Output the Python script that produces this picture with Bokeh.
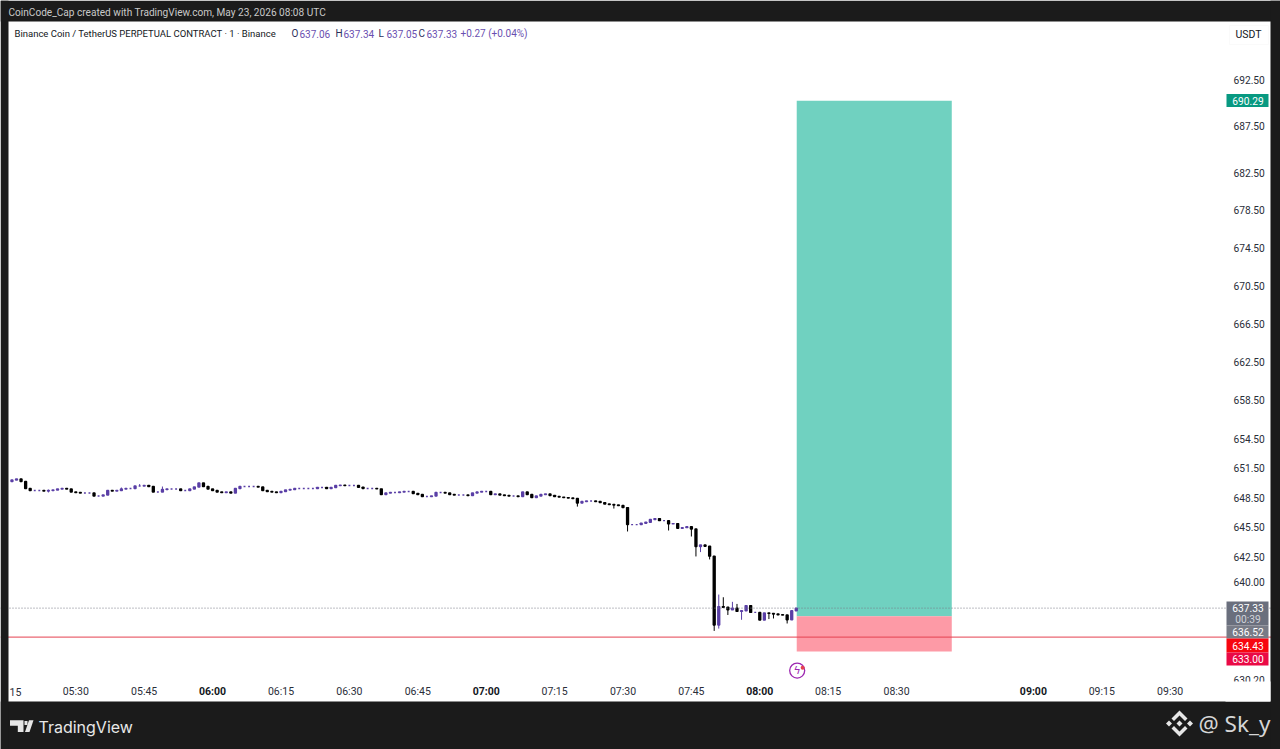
from bokeh.plotting import figure
from bokeh.models import (BoxAnnotation, Label, PolyAnnotation, Span, FixedTicker,
                          PrintfTickFormatter, ColumnDataSource, Range1d)
from bokeh.embed import file_html
from bokeh.resources import INLINE
from bokeh.core.properties import value

first_minute = 316
first_open = 650.15
closes = [650.30,650.41,650.15,649.43,649.23,649.23,649.23,649.18,649.23,649.28,649.38,649.43,649.38,649.08,
649.03,648.97,648.97,648.97,648.67,648.67,648.77,649.23,649.18,649.23,649.38,649.43,649.43,649.69,649.69,649.74,
649.64,649.08,649.08,649.33,649.38,649.38,649.38,649.23,649.23,649.38,649.59,650.00,649.64,649.38,649.23,649.08,
649.03,649.08,648.97,649.43,649.64,649.64,649.64,649.64,649.59,649.23,649.13,649.08,649.03,649.13,649.28,649.33,
649.43,649.43,649.43,649.43,649.43,649.54,649.54,649.43,649.54,649.74,649.77,649.74,649.74,649.74,649.57,649.43,
649.43,649.43,649.40,648.82,648.97,649.03,649.03,649.08,649.13,649.13,648.92,648.82,648.62,648.62,648.67,649.03,
649.03,648.97,648.82,648.77,648.77,648.77,648.72,648.97,649.08,649.13,649.13,648.82,648.87,648.77,648.72,648.67,
648.67,648.62,649.08,648.82,648.51,648.67,648.82,648.87,648.72,648.62,648.56,648.51,648.46,648.41,647.95,648.11,
648.16,648.16,648.11,648.00,647.85,647.80,647.75,647.70,647.49,645.76,645.76,645.76,645.89,645.99,646.27,646.37,
646.16,646.16,645.83,645.86,645.38,645.45,645.55,645.31,643.54,643.69,643.57,642.56,635.63,637.48,637.41,637.17,
637.31,637.00,637.07,637.58,636.90,636.90,636.13,636.84,636.80,636.74,636.67,636.64,636.16,637.06,637.33]
wick_minutes = [324,340,344,349,440,448,451,460,465,466,467,469,470,471,472,473,474,475,476,482,483,486]
wick_highs = [649.33,649.54,649.89,649.64,648.41,647.80,647.49,646.16,645.55,645.31,643.69,643.57,642.56,638.69,638.42,637.41,637.96,637.75,637.07,636.84,636.80,636.64]
wick_lows = [649.03,649.33,649.69,649.23,647.59,647.39,645.06,645.16,644.55,642.53,642.97,642.23,635.05,635.28,637.41,636.64,637.17,637.00,636.16,636.23,636.29,635.79]

price_ticks = [692.5,687.5,682.5,678.5,674.5,670.5,666.5,662.5,658.5,654.5,651.5,648.5,645.5,642.5,640.0,630.2]
time_ticks = [330,345,375,390,405,435,450,465,495,510,555,570]
time_labels = ["05:30","05:45","06:15","06:30","06:45","07:15","07:30","07:45","08:15","08:30","09:15","09:30"]
hour_ticks = [360,420,480,540]
hour_labels = ["06:00","07:00","08:00","09:00"]

last_price = 637.33
target = 690.29
entry = 636.52
stop = 633.00
line_price = 634.43
box_start, box_end = 488.1, 522.1

UP = "#5a3fa6"
DOWN = "#000000"
DARK = "#1b1b1b"
UI = "Roboto"

W, H = 1280, 749
p = figure(width=W, height=H, output_backend="svg", toolbar_location=None,
           y_axis_type="log", y_axis_location="right",
           x_range=Range1d(313.49, 594.19), y_range=Range1d(623.31, 701.26),
           frame_width=W, frame_height=H,
           min_border_left=0, min_border_right=0, min_border_top=0, min_border_bottom=0,
           background_fill_color="white", border_fill_color=DARK, outline_line_color=None)
p.grid.visible = False

def box(x0, y0, x1, y1, color, level="annotation", line=None):
    p.add_layout(BoxAnnotation(left=x0, right=x1, top=y0, bottom=y1,
                               left_units="canvas", right_units="canvas", top_units="canvas", bottom_units="canvas",
                               fill_color=color, fill_alpha=1, line_color=line, level=level, editable=False))

def text(x, y, s, color="#131722", size="11px", align="left", style="normal", font=UI, level="overlay"):
    p.add_layout(Label(x=x, y=y, x_units="canvas", y_units="canvas", text=s, text_color=color,
                       text_font_size=size, text_align=align, text_baseline="middle",
                       text_font=font, text_font_style=style, level=level))

# axes: their labels are pulled back into the chart panel
ax = p.yaxis[0]
ax.ticker = FixedTicker(ticks=price_ticks)
ax.formatter = PrintfTickFormatter(format="%.2f")
ax.axis_line_color = None
ax.major_tick_line_color = None
ax.minor_tick_line_color = None
ax.major_label_standoff = -53
ax.major_label_text_color = "#2a2e39"
ax.major_label_text_font = UI
ax.major_label_text_font_size = "10.2px"

xa = p.xaxis[0]
xa.ticker = FixedTicker(ticks=time_ticks)
xa.major_label_overrides = dict(zip(time_ticks, time_labels))
xa.axis_line_color = None
xa.major_tick_line_color = None
xa.minor_tick_line_color = None
xa.major_label_standoff = -71
xa.major_label_text_color = "#2a2e39"
xa.major_label_text_font = UI
xa.major_label_text_font_size = "10.5px"

# position tool
p.quad(left=[box_start], right=[box_end], top=[target], bottom=[entry], fill_color="#70d1c0", line_color=None)
p.quad(left=[box_start], right=[box_end], top=[entry], bottom=[stop], fill_color="#fd9aa6", line_color=None)

# candles
minutes = [first_minute + i for i in range(len(closes))]
opens = [first_open] + closes[:-1]
colors = [UP if c >= o else DOWN for o, c in zip(opens, closes)]
src = ColumnDataSource(dict(x=minutes, o=opens, c=closes, color=colors))
wick_colors = [colors[m - first_minute] for m in wick_minutes]
p.segment(x0=wick_minutes, x1=wick_minutes, y0=wick_lows, y1=wick_highs, color=wick_colors, line_width=1)
p.vbar(x="x", width=0.42, top="o", bottom="c", source=src, fill_color="color", line_color="color", line_width=1.4)

p.add_layout(Span(location=last_price, dimension="width", line_color="#787b86", line_width=1, line_dash="1 2"))
p.add_layout(Span(location=line_price, dimension="width", line_color="#e5404f", line_width=1))

# lightning marker
p.scatter(x=[488.2], y=[631.1], size=15, marker="circle", fill_color="white", line_color="#9c27b0", line_width=1.3)
p.text(x=[488.2], y=[631.1], text=["ϟ"], text_align="center", text_baseline="middle", text_color="#9c27b0",
       text_font=value("DejaVu Sans"), text_font_size="11px")
p.scatter(x=[489.4], y=[631.38], size=4, marker="circle", fill_color="#e5404f", line_color=None)

# dark surround of the chart panel, and the clipped last tick of the price scale
box(0, 0, W, 21, DARK)
box(0, 701, W, H, DARK)
box(0, 0, 8, H, DARK)
box(1270, 0, W, H, DARK)
box(1225, 681, 1270, 701, "white")

# hour labels and clipped first time label
for t, s in zip(hour_ticks, hour_labels):
    p.add_layout(Label(x=t, y=691, x_units="data", y_units="canvas", text=s, text_color="#131722",
                       text_font_size="10.5px", text_font=UI, text_font_style="bold",
                       text_align="center", text_baseline="middle", level="overlay"))
text(9, 691, "15", color="#2a2e39", size="10.5px")

# header and legend
text(8, 12, "CoinCode_Cap created with TradingView.com, May 23, 2026 08:08 UTC", color="#c9c9c9", size="10.1px")
text(14, 33, "Binance Coin / TetherUS PERPETUAL CONTRACT · 1 · Binance", color="#131722", size="9.5px")
VAL = "#6a4fb0"
for x, k, v in [(291, "O", "637.06"), (335, "H", "637.34"), (378, "L", "637.05"), (418, "C", "637.33")]:
    text(x, 33, k, color="#2b2f5a", size="10px")
    text(x + 8, 33, v, color=VAL, size="10px")
text(460, 33, "+0.27 (+0.04%)", color=VAL, size="10px")

# USDT button
box(1229, 25, 1268, 44, "white", line="#eeeeee")
text(1248, 34, "USDT", color="#131722", size="10.5px", align="center")

# price flags
def flag(y0, y1, color, label, tcolor="white"):
    box(1226, y0, 1268, y1, color)
    text(1247.5, (y0 + y1) / 2, label, color=tcolor, size="10.2px", align="center")

flag(93.5, 106.5, "#089981", "690.29")
box(1226, 601, 1268, 625, "#6a6f7d")
text(1247.5, 607.5, "637.33", color="white", size="10.2px", align="center")
text(1247.5, 619, "00:39", color="#d0d3da", size="10.2px", align="center")
flag(625, 638, "#787b86", "636.52")
flag(638, 652, "#f7060f", "634.43")
flag(652, 665, "#ea0a45", "633.00")

# footer
def poly(xs, ys, color="#e6e6e6"):
    p.add_layout(PolyAnnotation(xs=xs, ys=ys, xs_units="canvas", ys_units="canvas",
                                fill_color=color, fill_alpha=1, line_color=None, level="overlay", editable=False))

poly([9.5, 23, 23, 17.3, 17.3, 9.5], [719.7, 719.7, 731.5, 731.5, 725.2, 725.2])
poly([24, 27, 27, 24], [720.5, 720.5, 724.5, 724.5])
poly([24.5, 29, 33, 28.5], [731.5, 731.5, 719.7, 719.7])
text(38, 726, "TradingView", color="#e8e8e8", size="16px", style="normal", font="Inter")

cx, cy = 1179, 723
poly([cx, cx + 8, cx + 5.5, cx, cx - 5.5, cx - 8], [cy - 13, cy - 5, cy - 2.5, cy - 8, cy - 2.5, cy - 5])
poly([cx, cx + 8, cx + 5.5, cx, cx - 5.5, cx - 8], [cy + 13, cy + 5, cy + 2.5, cy + 8, cy + 2.5, cy + 5])
poly([cx, cx + 3, cx, cx - 3], [cy - 3, cy, cy + 3, cy])
poly([cx - 10.5, cx - 7.5, cx - 10.5, cx - 13.5], [cy - 3, cy, cy + 3, cy])
poly([cx + 10.5, cx + 13.5, cx + 10.5, cx + 7.5], [cy - 3, cy, cy + 3, cy])
text(1198, 723, "@ Sk_y", color="#d6d6d6", size="22.5px", font="Noto Sans")

html = file_html(p, INLINE)
open("out.html", "w").write(html)
